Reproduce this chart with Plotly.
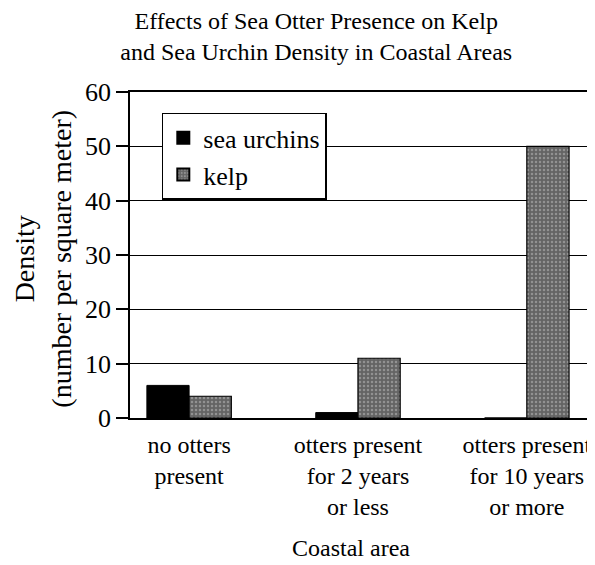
import plotly.graph_objects as go

categories = ["no otters<br>present", "otters present<br>for 2 years<br>or less", "otters present<br>for 10 years<br>or more"]
x_pos = [0, 1, 2]
sea_urchins = [6, 1, 0]
kelp = [4, 11, 50]
y_ticks = [0, 10, 20, 30, 40, 50, 60]

FONT = "Liberation Serif"

fig = go.Figure()
fig.add_trace(go.Bar(x=x_pos, y=sea_urchins, name="sea urchins",
                     marker=dict(color="#000000", line=dict(color="#000000", width=1))))
fig.add_trace(go.Bar(x=x_pos, y=kelp, name="kelp",
                     marker=dict(color="#646464", line=dict(color="#000000", width=1.2),
                                 pattern=dict(shape=".", fgcolor="#c0c0c0", size=4, solidity=0.3))))

fig.update_layout(
    width=595, height=565,
    margin=dict(l=122, r=12, t=84, b=155, autoexpand=False),
    paper_bgcolor="white", plot_bgcolor="white",
    font=dict(family=FONT, color="black", size=24),
    barmode="group", bargap=0.5, bargroupgap=0,
    title=dict(text="Effects of Sea Otter Presence on Kelp<br>and Sea Urchin Density in Coastal Areas",
               x=0.518, xanchor="center", xref="container",
               y=0.963, yanchor="middle", yref="container",
               font=dict(family=FONT, size=24)),
    showlegend=True,
    legend=dict(x=0.069, y=0.936, xanchor="left", yanchor="top",
                bordercolor="black", borderwidth=1.5, bgcolor="white",
                font=dict(family=FONT, size=26), itemsizing="constant",
                tracegroupgap=0),
    annotations=[
        dict(text="Density<br>(number per square meter)", textangle=-90,
             xref="paper", yref="paper", x=-0.19, y=0.49,
             xanchor="center", yanchor="middle", showarrow=False,
             font=dict(family=FONT, size=28)),
        dict(text="Coastal area", xref="paper", yref="paper",
             x=0.48, y=-0.399, xanchor="center", yanchor="middle", showarrow=False,
             font=dict(family=FONT, size=24)),
    ],
)
fig.update_xaxes(range=[-0.35, 2.38], tickvals=x_pos, ticktext=categories,
                 showline=True, linecolor="black", linewidth=1.5, mirror=True,
                 ticks="outside", ticklen=4, tickcolor="rgba(0,0,0,0)",
                 showgrid=False, zeroline=False, automargin=False,
                 tickfont=dict(family=FONT, size=24))
fig.update_yaxes(range=[0, 60], tickvals=y_ticks,
                 showline=True, linecolor="black", linewidth=1.5, mirror=True,
                 ticks="outside", ticklen=12, tickwidth=1.5, tickcolor="black",
                 showgrid=True, gridcolor="black", gridwidth=1.3, zeroline=False,
                 automargin=False,
                 tickfont=dict(family=FONT, size=26))

fig.write_html("out.html")
